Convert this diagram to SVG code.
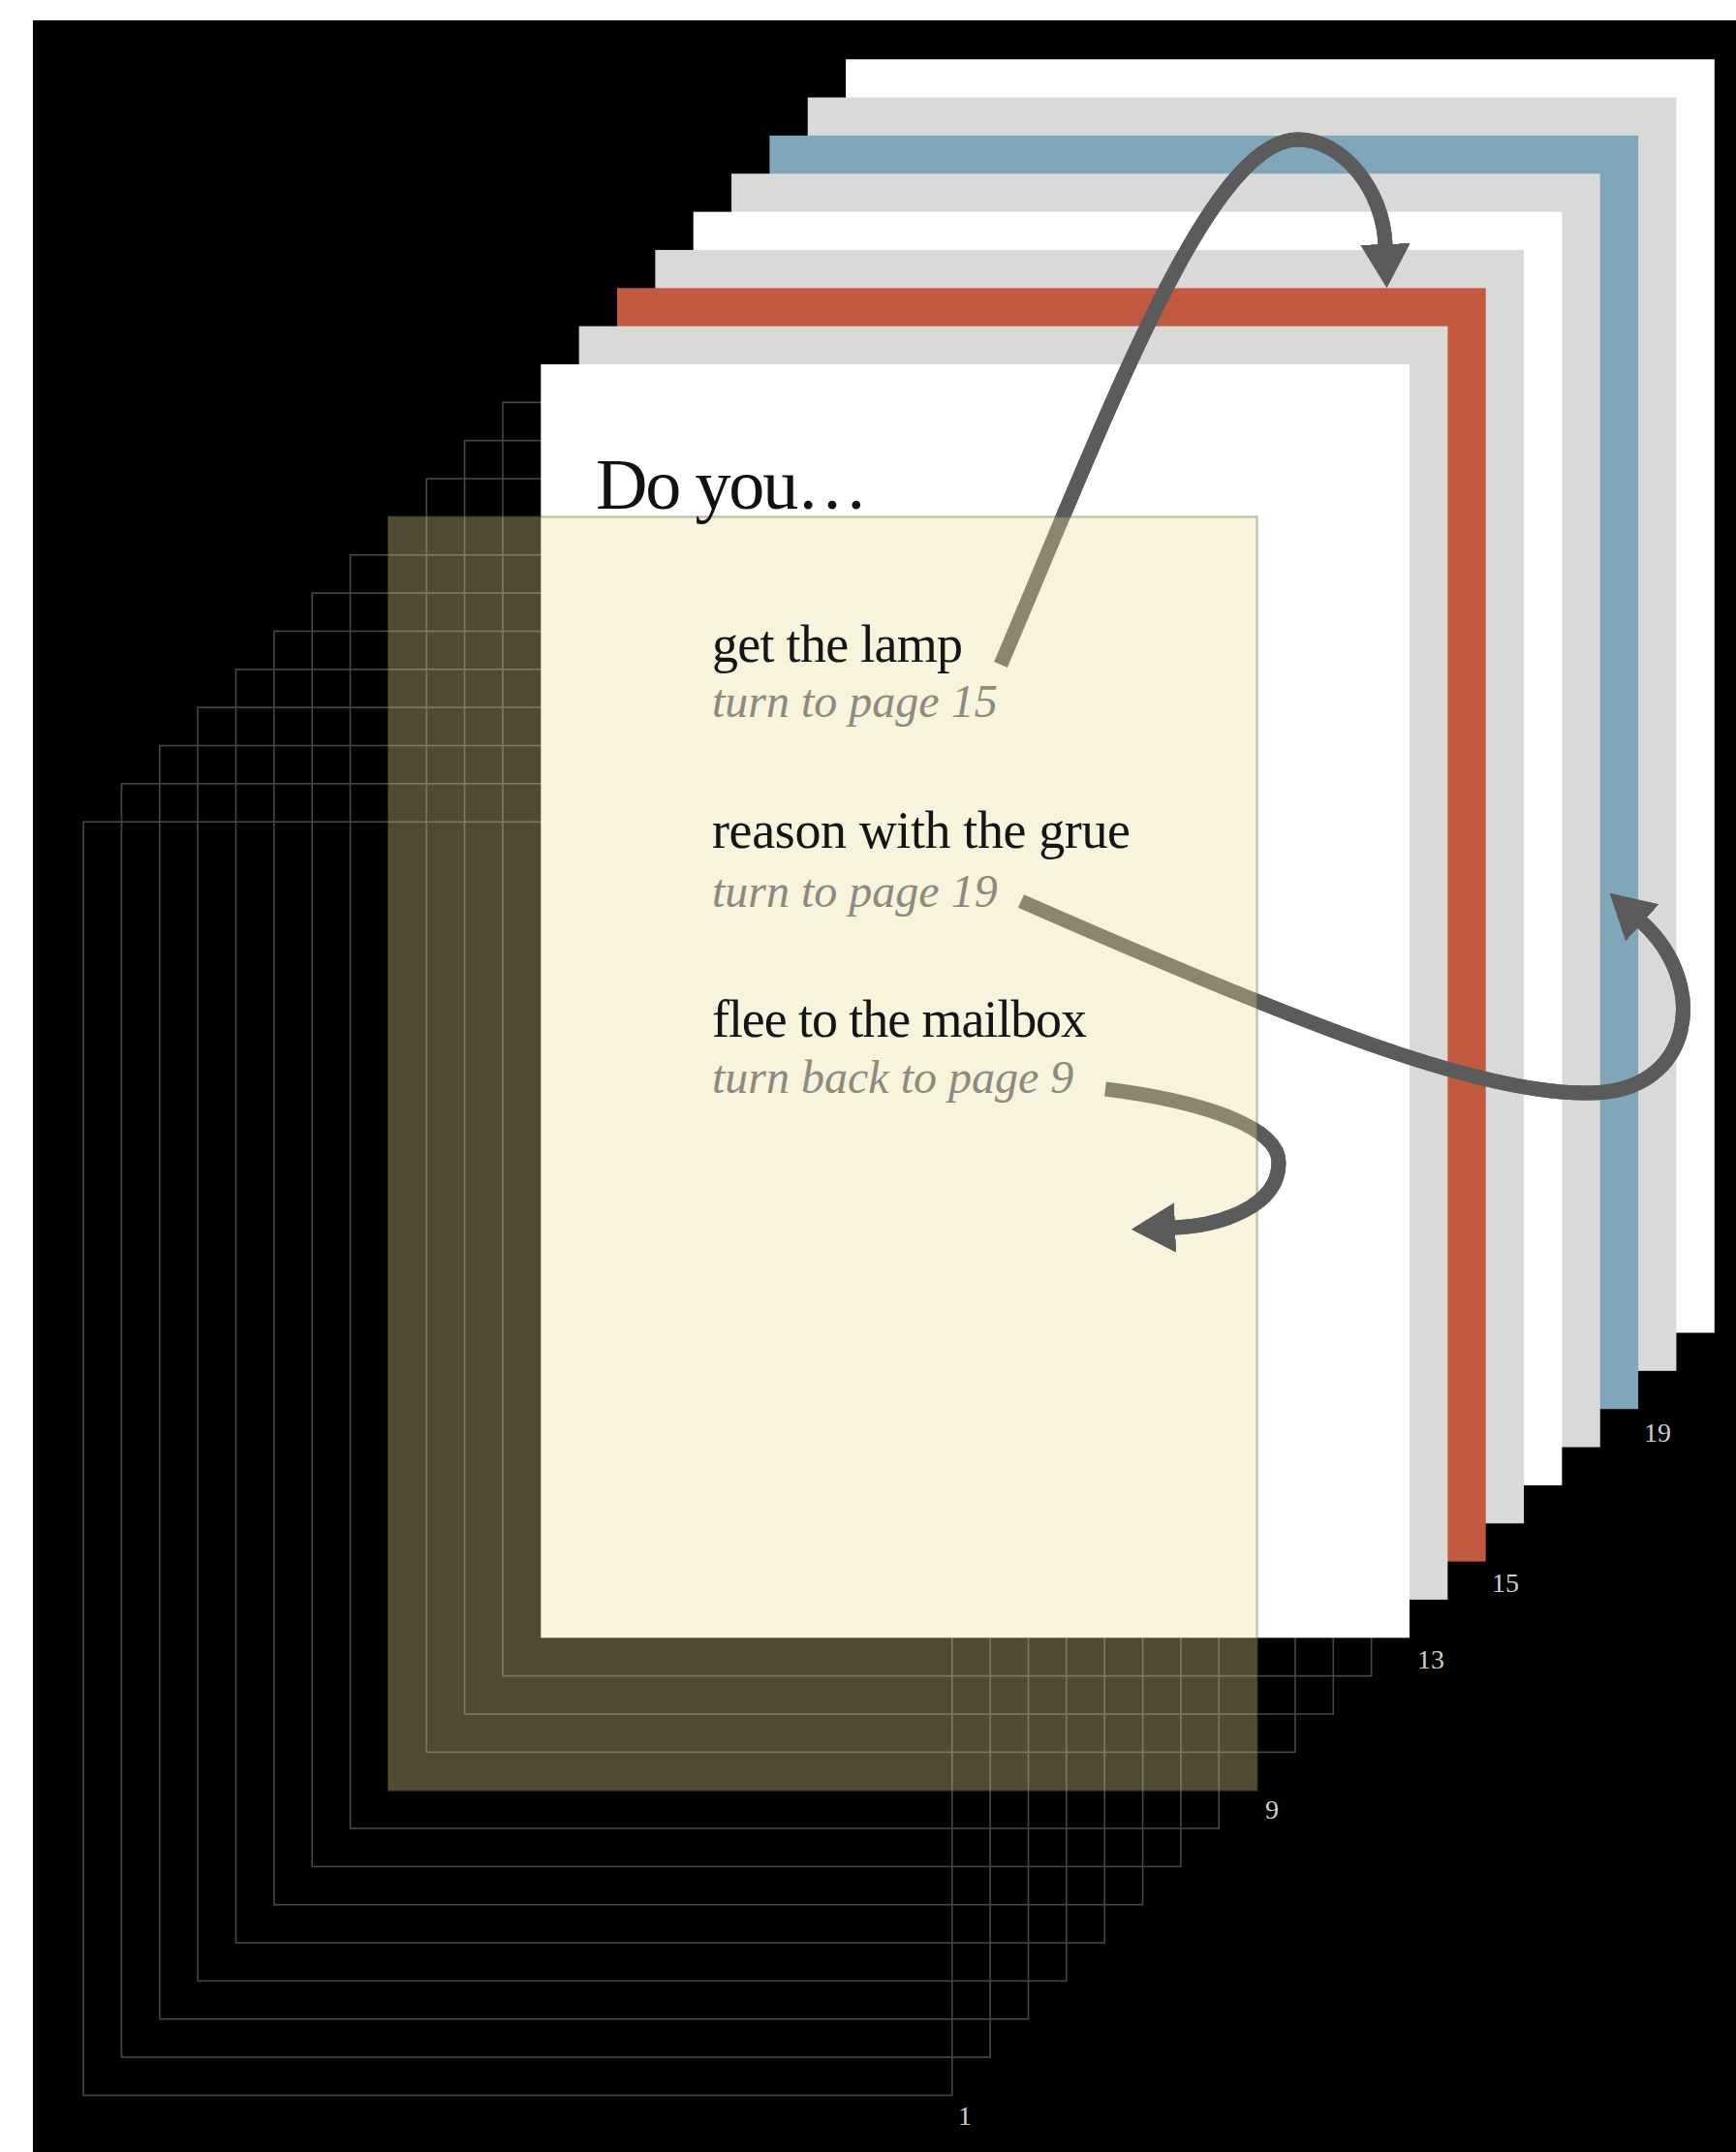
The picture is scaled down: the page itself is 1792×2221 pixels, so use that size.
<svg xmlns="http://www.w3.org/2000/svg" xmlns:xlink="http://www.w3.org/1999/xlink" width="1792" height="2221" viewBox="0 0 1792 2221">
<defs>
<style>
.bg{fill:#000}
.outline{fill:none;stroke:#474747;stroke-width:1.6}
.white{fill:#fff}
.gray{fill:#d9d9d9}
.red{fill:#c25a42}
.blue{fill:#7fa6b9}
.cream{fill:#eadc97;fill-opacity:0.337;stroke:#645f46;stroke-opacity:0.35;stroke-width:2.5}
.arrow{fill:none;stroke:#5b5b5b;stroke-width:15;marker-end:url(#ah)}
.title{font-family:"Liberation Serif",serif;font-size:74px;fill:#111}
.choice{font-family:"Liberation Serif",serif;font-size:54px;fill:#151515}
.hint{font-family:"Liberation Serif",serif;font-style:italic;font-size:48px;fill:#8e8a7e}
.num{font-family:"Liberation Serif",serif;font-size:28px;fill:#cfcfcf}
</style>
<marker id="ah" markerUnits="userSpaceOnUse" viewBox="0 0 46 51" markerWidth="46" markerHeight="51" refX="1" refY="25.5" orient="auto">
<path d="M0,0 L45,25.5 L0,51 Z" fill="#5b5b5b"/>
</marker>
<clipPath id="after-exit">
<path clip-rule="evenodd" d="M0,0H1792V2221H0Z M400.9,533.4H1297.6V1200H400.9Z"/>
</clipPath>
</defs>

<rect x="0" y="0" width="1792" height="2221" fill="#fff"/>
<rect class="bg" x="34" y="21" width="1758" height="2200"/>

<g id="outline-pages">
<g id="page-1"><rect class="outline" x="86.1" y="848.2" width="896.7" height="1314.3"/></g>
<g id="page-2"><rect class="outline" x="125.45" y="808.85" width="896.7" height="1314.3"/></g>
<g id="page-3"><rect class="outline" x="164.8" y="769.5" width="896.7" height="1314.3"/></g>
<g id="page-4"><rect class="outline" x="204.15" y="730.15" width="896.7" height="1314.3"/></g>
<g id="page-5"><rect class="outline" x="243.5" y="690.8" width="896.7" height="1314.3"/></g>
<g id="page-6"><rect class="outline" x="282.85" y="651.45" width="896.7" height="1314.3"/></g>
<g id="page-7"><rect class="outline" x="322.2" y="612.1" width="896.7" height="1314.3"/></g>
<g id="page-8"><rect class="outline" x="361.55" y="572.75" width="896.7" height="1314.3"/></g>
<g id="page-10"><rect class="outline" x="440.25" y="494.05" width="896.7" height="1314.3"/></g>
<g id="page-11"><rect class="outline" x="479.6" y="454.7" width="896.7" height="1314.3"/></g>
<g id="page-12"><rect class="outline" x="518.95" y="415.35" width="896.7" height="1314.3"/></g>
</g>

<g id="solid-pages">
<g id="page-21"><rect class="white" x="873.1" y="61.2" width="896.7" height="1314.3"/></g>
<g id="page-20"><rect class="gray" x="833.75" y="100.55" width="896.7" height="1314.3"/></g>
<g id="page-19"><rect class="blue" x="794.4" y="139.9" width="896.7" height="1314.3"/></g>
<g id="page-18"><rect class="gray" x="755.05" y="179.25" width="896.7" height="1314.3"/></g>
<g id="page-17"><rect class="white" x="715.7" y="218.6" width="896.7" height="1314.3"/></g>
<g id="page-16"><rect class="gray" x="676.35" y="257.95" width="896.7" height="1314.3"/></g>
<g id="page-15"><rect class="red" x="637" y="297.3" width="896.7" height="1314.3"/></g>
<g id="page-14"><rect class="gray" x="597.65" y="336.65" width="896.7" height="1314.3"/></g>
<g id="page-13"><rect class="white" x="558.3" y="376" width="896.7" height="1314.3"/></g>
</g>

<g id="connectors">
<path id="arrow-lamp" class="arrow" d="M1033,686 C1150,410 1250,144 1340,144 C1385,144 1428,195 1430,253"/>
<path id="arrow-grue" class="arrow" d="M1054,930 C1350,1060 1530,1130 1640,1128 C1750,1128 1765,1015 1694.5,951.5"/>
<path id="arrow-mailbox" class="arrow" d="M1141,1124 C1230,1135 1320,1160 1320,1200 C1320,1245 1260,1265 1212,1267"/>
</g>

<g id="page-9"><rect class="cream" x="400.9" y="533.4" width="896.7" height="1314.3"/></g>

<use xlink:href="#connectors" href="#connectors" clip-path="url(#after-exit)"/>

<g id="page-text">
<text class="title" x="615" y="525" textLength="281">Do you…</text>
<text class="choice" x="735" y="683" textLength="259">get the lamp</text>
<text class="hint" x="735" y="740">turn to page 15</text>
<text class="choice" x="735" y="875" textLength="432">reason with the grue</text>
<text class="hint" x="735" y="936">turn to page 19</text>
<text class="choice" x="735" y="1070" textLength="387">flee to the mailbox</text>
<text class="hint" x="735" y="1128">turn back to page 9</text>
</g>

<g id="page-numbers">
<text class="num" x="989" y="2193">1</text>
<text class="num" x="1306" y="1877">9</text>
<text class="num" x="1463" y="1722">13</text>
<text class="num" x="1540" y="1643">15</text>
<text class="num" x="1697" y="1488">19</text>
</g>
</svg>
